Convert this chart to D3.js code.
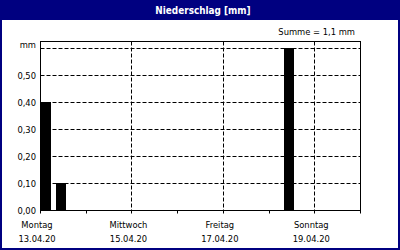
<!DOCTYPE html>
<html>
<head>
<meta charset="utf-8">
<script src="https://cdn.jsdelivr.net/npm/d3@7/dist/d3.min.js"></script>
<style>
  html, body { margin: 0; padding: 0; background: #fff; }
  svg { display: block; }
  text { font-family: "DejaVu Sans Condensed", "DejaVu Sans", sans-serif; font-size: 9.3px; fill: #000; }
</style>
</head>
<body>
<script>
// Precipitation per 8-hour period, 13.04.20 – 19.04.20
const periodStarts = [
  "2020-04-13T00:00", "2020-04-13T08:00", "2020-04-13T16:00",
  "2020-04-14T00:00", "2020-04-14T08:00", "2020-04-14T16:00",
  "2020-04-15T00:00", "2020-04-15T08:00", "2020-04-15T16:00",
  "2020-04-16T00:00", "2020-04-16T08:00", "2020-04-16T16:00",
  "2020-04-17T00:00", "2020-04-17T08:00", "2020-04-17T16:00",
  "2020-04-18T00:00", "2020-04-18T08:00", "2020-04-18T16:00",
  "2020-04-19T00:00", "2020-04-19T08:00", "2020-04-19T16:00"
];
const precipitation = [
  0.40, 0.10, 0, 0, 0, 0, 0, 0, 0, 0, 0,
  0, 0, 0, 0, 0, 0.60, 0, 0, 0, 0
];
const periodHours = 8;

const dayTicks = ["2020-04-13", "2020-04-14", "2020-04-15", "2020-04-16",
                  "2020-04-17", "2020-04-18", "2020-04-19", "2020-04-20"];
const labelDays = ["2020-04-13", "2020-04-15", "2020-04-17", "2020-04-19"];
const dayNames = ["Montag", "Mittwoch", "Freitag", "Sonntag"];
const dateLabels = ["13.04.20", "15.04.20", "17.04.20", "19.04.20"];

const yTicks = [0, 0.1, 0.2, 0.3, 0.4, 0.5, 0.6];
const yTickLabels = ["0,00", "0,10", "0,20", "0,30", "0,40", "0,50", "mm"];

const title = "Niederschlag [mm]";
const sumLabel = "Summe = 1,1 mm";

const W = 400, H = 250;
const parse = d3.timeParse("%Y-%m-%dT%H:%M");
const parseDay = d3.timeParse("%Y-%m-%d");

const svg = d3.select("body").append("svg")
  .attr("width", W).attr("height", H);

// frame + title bar
svg.append("rect").attr("x", 0).attr("y", 0).attr("width", W).attr("height", H).attr("fill", "#000080");
svg.append("rect").attr("x", 2).attr("y", 20).attr("width", W - 4).attr("height", H - 22).attr("fill", "#ffffff");
svg.append("text").attr("x", 203).attr("y", 13.5)
  .attr("text-anchor", "middle").attr("font-weight", "bold")
  .style("fill", "#fff").style("font-size", "9.9px")
  .text(title);

const plot = { left: 40.5, right: 360.5, top: 41.5, bottom: 210.5 };

const x = d3.scaleTime()
  .domain([parseDay(dayTicks[0]), parseDay(dayTicks[dayTicks.length - 1])])
  .range([plot.left, plot.right]);
const y = d3.scaleLinear().domain([0, 0.6]).range([plot.bottom, 48.5]);

// horizontal dashed grid
svg.append("g").selectAll("line").data(yTicks.filter(v => v > 0)).join("line")
  .attr("x1", plot.left).attr("x2", plot.right)
  .attr("y1", d => y(d)).attr("y2", d => y(d))
  .attr("stroke", "#000").attr("stroke-dasharray", "4,2");

// vertical dashed grid on labelled days
svg.append("g").selectAll("line").data(labelDays.slice(1)).join("line")
  .attr("x1", d => Math.round(x(parseDay(d)) - 0.5) + 0.5)
  .attr("x2", d => Math.round(x(parseDay(d)) - 0.5) + 0.5)
  .attr("y1", plot.top).attr("y2", plot.bottom)
  .attr("stroke", "#000").attr("stroke-dasharray", "4,2");

// bars
const bars = periodStarts.map((s, i) => ({ t: parse(s), v: precipitation[i] })).filter(d => d.v > 0);
svg.append("g").selectAll("rect").data(bars).join("rect")
  .attr("x", d => Math.round(x(d.t)))
  .attr("width", d => Math.round((x(d3.timeHour.offset(d.t, periodHours)) - x(d.t)) * 0.66))
  .attr("y", d => Math.round(y(d.v) - 0.5))
  .attr("height", d => Math.round(plot.bottom - y(d.v)))
  .attr("fill", "#000");

// plot frame
svg.append("rect").attr("x", plot.left).attr("y", plot.top)
  .attr("width", plot.right - plot.left).attr("height", plot.bottom - plot.top)
  .attr("fill", "none").attr("stroke", "#000");

// x ticks
svg.append("g").selectAll("line").data(dayTicks).join("line")
  .attr("x1", d => Math.round(x(parseDay(d)) - 0.5) + 0.5)
  .attr("x2", d => Math.round(x(parseDay(d)) - 0.5) + 0.5)
  .attr("y1", plot.bottom).attr("y2", plot.bottom + 3)
  .attr("stroke", "#000");

// x labels
const xl = svg.append("g").selectAll("g").data(labelDays).join("g")
  .attr("transform", d => `translate(${x(parseDay(d)) - 3.5},0)`)
  .attr("text-anchor", "middle");
xl.append("text").attr("y", 227.5).text((d, i) => dayNames[i]);
xl.append("text").attr("y", 242).text((d, i) => dateLabels[i]);

// y labels
svg.append("g").attr("text-anchor", "end").selectAll("text").data(yTicks).join("text")
  .attr("x", 36)
  .attr("y", (d, i) => y(d) + (i === yTicks.length - 1 ? -1 : 3.5))
  .text((d, i) => yTickLabels[i]);

// total
svg.append("text").attr("x", 355).attr("y", 35).attr("text-anchor", "end").text(sumLabel);
</script>
</body>
</html>
